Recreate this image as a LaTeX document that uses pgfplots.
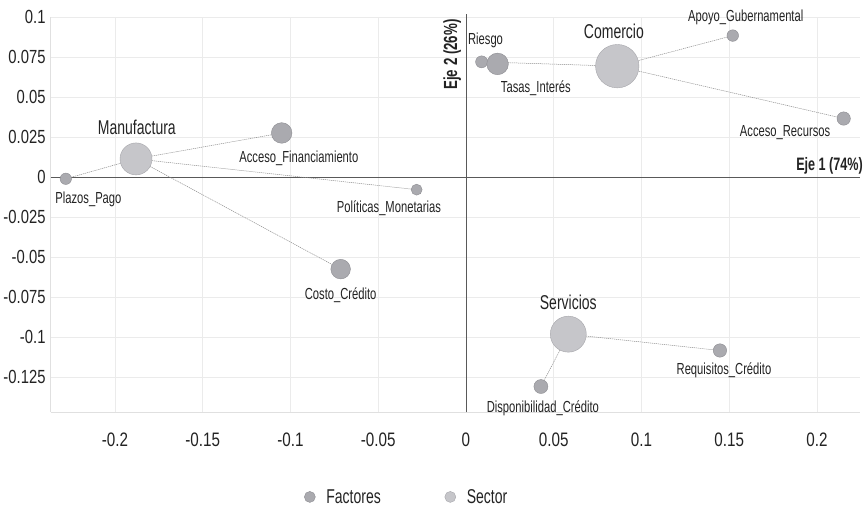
\documentclass[border=0pt]{standalone}
\usepackage{pgfplots}
\pgfplotsset{compat=1.18}
\usepackage{fontspec}
\setmainfont{Liberation Sans}[FakeStretch=0.7]
\newfontfamily\tickfont{Liberation Sans}[FakeStretch=0.78]
\definecolor{fcol}{RGB}{170,170,175}
\definecolor{fbord}{RGB}{140,140,145}
\definecolor{scol}{RGB}{198,198,202}
\definecolor{sbord}{RGB}{165,165,170}
\definecolor{txt}{RGB}{35,35,35}
\newcommand{\lab}{\fontsize{16}{18}\selectfont}
\newcommand{\slab}{\fontsize{20}{22}\selectfont}
\begin{document}
\begin{tikzpicture}
\useasboundingbox (-50.7pt,-102pt) rectangle (816.3pt,412pt);
\begin{axis}[
  at={(0,0)}, anchor=south west,
  scale only axis, width=809.3pt, height=395pt,
  xmin=-0.2366, xmax=0.2245, ymin=-0.1466, ymax=0.1,
  clip=false,
  axis x line*=bottom, axis y line*=left,
  axis line style={draw=black!12, line width=0.6pt, -},
  xtick={-0.2,-0.15,-0.1,-0.05,0,0.05,0.1,0.15,0.2},
  xticklabels={-0.2,-0.15,-0.1,-0.05,0,0.05,0.1,0.15,0.2},
  ytick={-0.125,-0.1,-0.075,-0.05,-0.025,0,0.025,0.05,0.075,0.1},
  yticklabels={-0.125,-0.1,-0.075,-0.05,-0.025,0,0.025,0.05,0.075,0.1},
  major tick length=0pt,
  grid=major,
  major grid style={draw=black!8, line width=0.6pt},
  xticklabel style={font=\tickfont\fontsize{19.5}{21}\selectfont, text=txt, anchor=north, inner sep=0pt, yshift=-21pt},
  yticklabel style={font=\tickfont\fontsize{19}{21}\selectfont, text=txt, anchor=east, inner sep=0pt, xshift=-5pt},
  legend style={draw=none, fill=none, at={(0.44,-0.215)}, anchor=center,
    font=\fontsize{20}{22}\selectfont, text=txt,
    /tikz/every even column/.append style={column sep=62pt}},
  legend columns=2,
  legend cell align=left,
]
% axis lines through origin
\addplot[black!65, line width=0.8pt, forget plot] coordinates {(-0.2366,0) (0.2245,0)};
\addplot[black!65, line width=0.8pt, forget plot] coordinates {(0,-0.1466) (0,0.1016)};

% factor bubbles
\addplot[scatter, only marks, mark=*, forget plot,
  scatter/use mapped color={draw=fbord, fill=fcol},
  visualization depends on={\thisrow{r} \as \rr},
  scatter/@pre marker code/.append style={/tikz/mark size=\rr}]
  table[x=x, y=y] {
  x        y        r
  -0.228   -0.001   5.7
  -0.105    0.0276  10.3
  -0.0281  -0.0078  5.5
  -0.0714  -0.0574  9.8
   0.0089   0.0720  6.0
   0.0180   0.0707  10.8
   0.1520   0.0884  5.8
   0.2152   0.0366  6.7
   0.1447  -0.1082  6.7
   0.0427  -0.1307  7.0
  };

% sector bubbles
\addplot[scatter, only marks, mark=*, forget plot,
  scatter/use mapped color={draw=sbord, fill=scol},
  visualization depends on={\thisrow{r} \as \rr},
  scatter/@pre marker code/.append style={/tikz/mark size=\rr}]
  table[x=x, y=y] {
  x        y        r
  -0.188    0.0114  16
   0.0862   0.0693  21.7
   0.0583  -0.0980  18
  };

% connecting lines
\addplot[black!45, line width=0.5pt, dash pattern=on 1.2pt off 0.8pt, forget plot] coordinates {
  (-0.188,0.0114) (-0.228,-0.001)

  (-0.188,0.0114) (-0.105,0.0276)

  (-0.188,0.0114) (-0.0281,-0.0078)

  (-0.188,0.0114) (-0.0714,-0.0574)

  (0.0862,0.0693) (0.0089,0.0720)

  (0.0862,0.0693) (0.1520,0.0884)

  (0.0862,0.0693) (0.2152,0.0366)

  (0.0583,-0.0980) (0.1447,-0.1082)

  (0.0583,-0.0980) (0.0427,-0.1307)
};

% labels
\node[anchor=base, text=txt, font=\slab] at (axis cs:-0.1875,0.0266) {Manufactura};
\node[anchor=base, text=txt, font=\slab] at (axis cs:0.0843,0.0864) {Comercio};
\node[anchor=base, text=txt, font=\slab] at (axis cs:0.0583,-0.0824) {Servicios};
\node[anchor=base, text=txt, font=\lab] at (axis cs:-0.0952,0.0089) {Acceso\_Financiamiento};
\node[anchor=base, text=txt, font=\lab] at (axis cs:-0.2151,-0.0166) {Plazos\_Pago};
\node[anchor=base, text=txt, font=\lab] at (axis cs:-0.0439,-0.0222) {Políticas\_Monetarias};
\node[anchor=base, text=txt, font=\lab] at (axis cs:-0.0714,-0.0761) {Costo\_Crédito};
\node[anchor=base west, text=txt, font=\lab, inner sep=0pt] at (axis cs:0.0011,0.0828) {Riesgo};
\node[anchor=base, text=txt, font=\lab] at (axis cs:0.0398,0.0526) {Tasas\_Interés};
\node[anchor=base, text=txt, font=\lab] at (axis cs:0.1594,0.0974) {Apoyo\_Gubernamental};
\node[anchor=base, text=txt, font=\lab] at (axis cs:0.1818,0.0255) {Acceso\_Recursos};
\node[anchor=base, text=txt, font=\lab] at (axis cs:0.1470,-0.1234) {Requisitos\_Crédito};
\node[anchor=base, text=txt, font=\lab] at (axis cs:0.0438,-0.1470) {Disponibilidad\_Crédito};
\node[anchor=base east, text=txt, font=\bfseries\fontsize{18}{20}\selectfont, inner sep=0pt] at (axis cs:0.2262,0.0041) {Eje 1 (74\%)};
\node[anchor=base, rotate=90, text=txt, font=\bfseries\fontsize{19}{21}\selectfont, inner sep=0pt] at (axis cs:-0.0051,0.0766) {Eje 2 (26\%)};

% legend
\addlegendimage{only marks, mark=*, mark size=5.5pt, draw=fbord, fill=fcol}
\addlegendentry{\hspace{9pt}Factores}
\addlegendimage{only marks, mark=*, mark size=5.5pt, draw=sbord, fill=scol}
\addlegendentry{\hspace{9pt}Sector}
\end{axis}
\end{tikzpicture}
\end{document}
